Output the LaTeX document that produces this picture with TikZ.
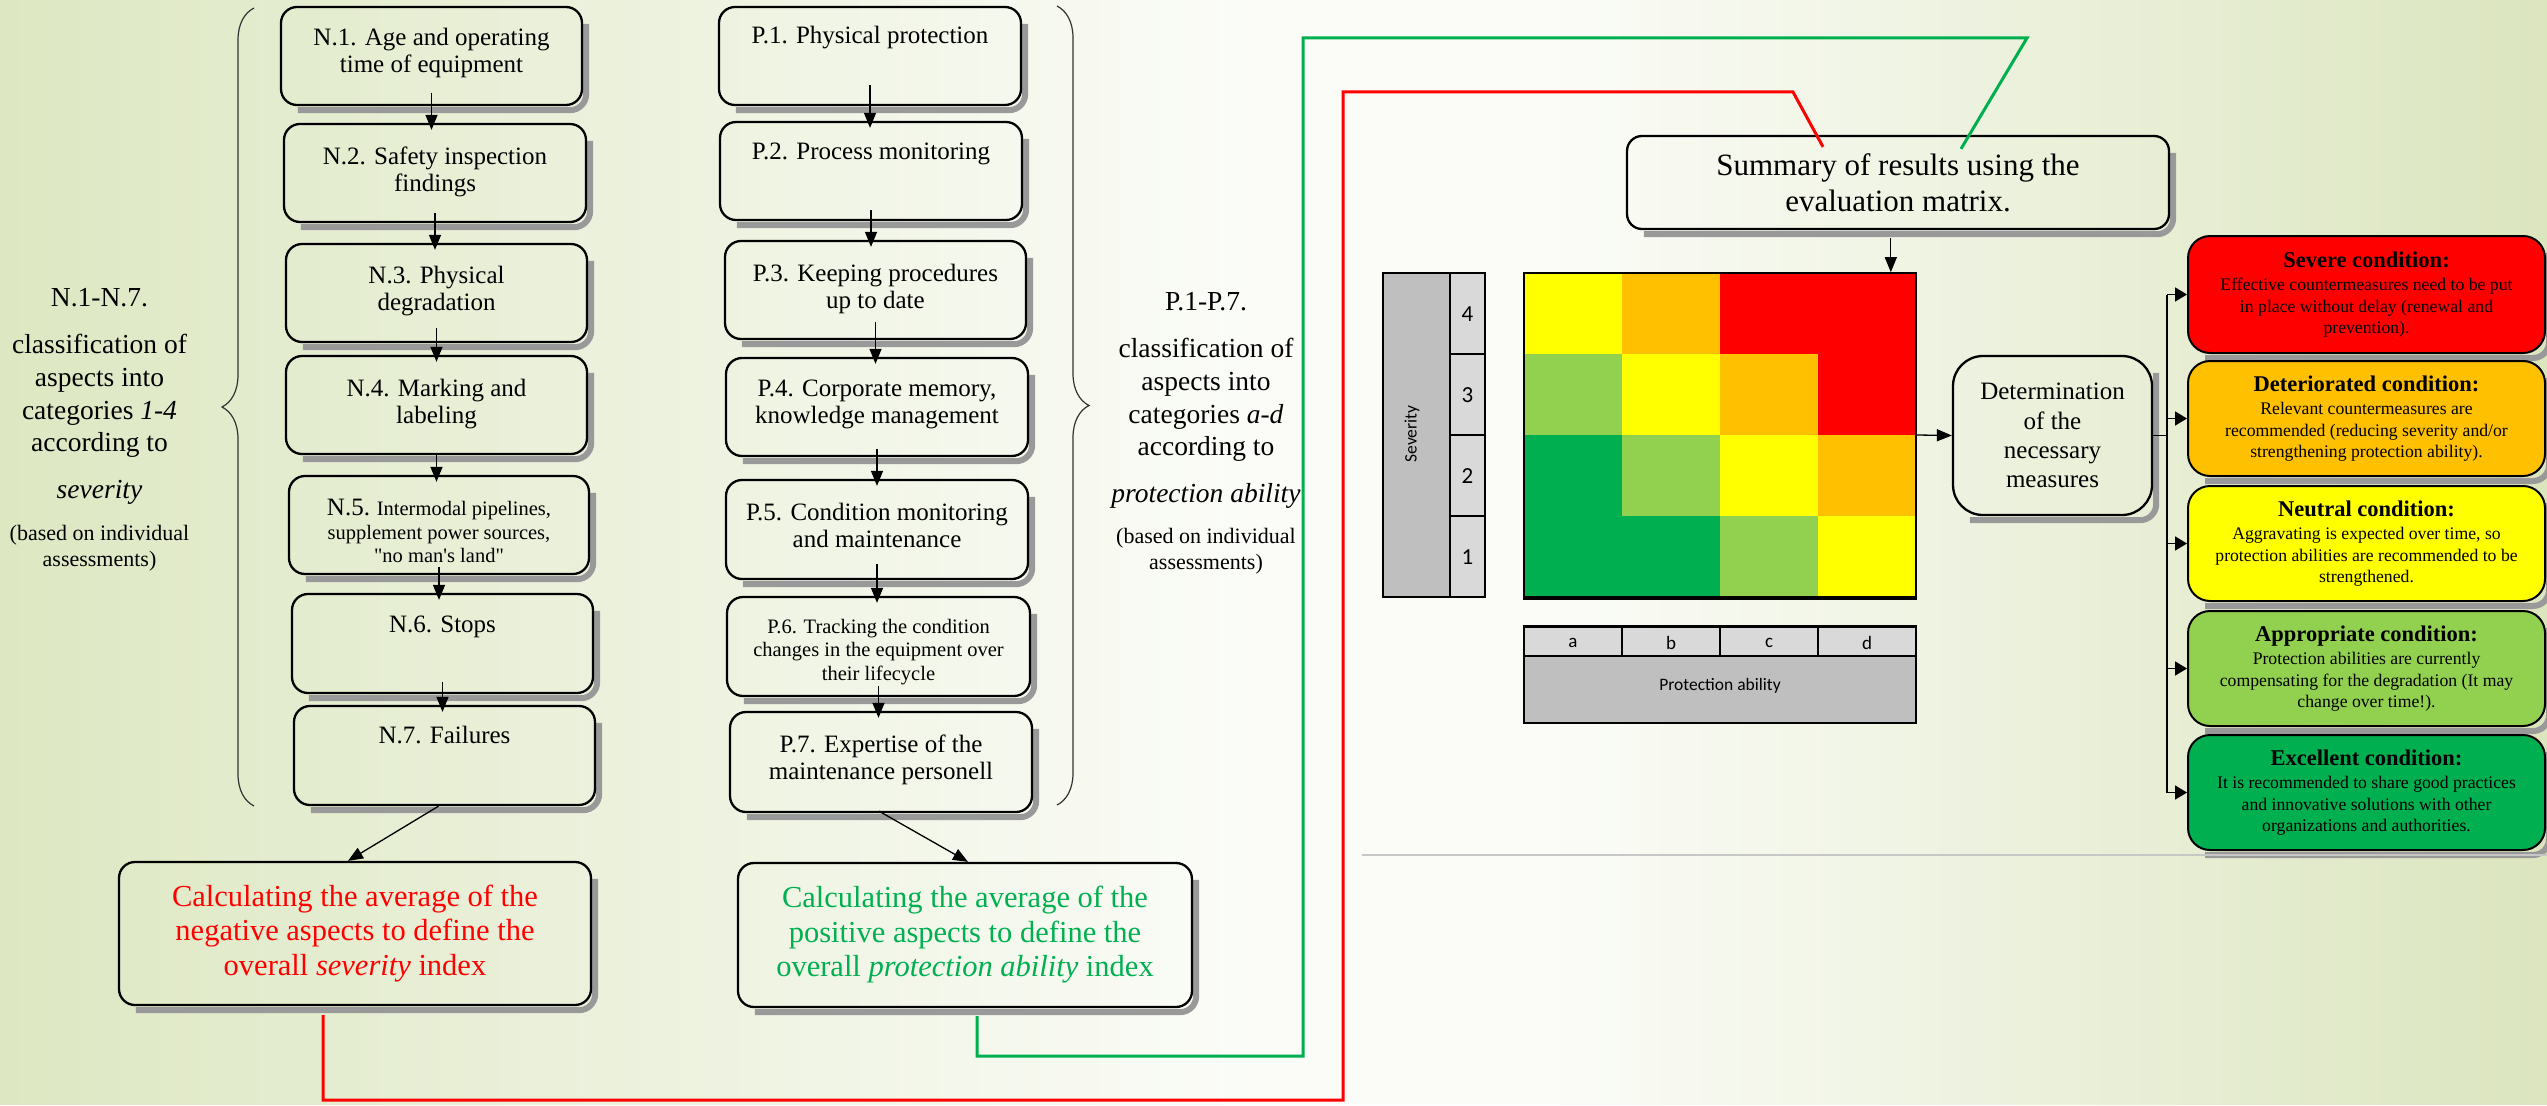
\documentclass[tikz,border=0pt]{standalone}
\usepackage{fontspec}
\setmainfont{Liberation Serif}
\newfontfamily\calfont{Carlito}
\usetikzlibrary{arrows.meta,calc,decorations.pathreplacing}
\pgfdeclarelayer{bglayer}
\pgfdeclarelayer{shlayer}
\pgfsetlayers{bglayer,shlayer,main}
\definecolor{bgL}{RGB}{221,231,194}
\definecolor{bgM}{RGB}{251,252,248}
\definecolor{bgR}{RGB}{219,229,190}
\definecolor{cRed}{RGB}{255,0,0}
\definecolor{cOrange}{RGB}{255,192,0}
\definecolor{cYellow}{RGB}{255,255,0}
\definecolor{cLGreen}{RGB}{146,208,80}
\definecolor{cGreen}{RGB}{0,176,80}
\definecolor{lnRed}{RGB}{255,0,0}
\definecolor{lnGreen}{RGB}{0,176,80}
\definecolor{gDark}{RGB}{191,191,191}
\definecolor{gLight}{RGB}{217,217,217}
\newcommand\mkbox[7]{%
  \node[#6, minimum width={#4-#2}, minimum height={#5-#3}] (#1) at ({(#2+#4)/2},{(#3+#5)/2}) {#7};%
  \begin{pgfonlayer}{shlayer}%
    \draw[shadowln] ([xshift=18pt,yshift=-4pt]#1.south west) -- ([xshift=3pt,yshift=-4pt]#1.south east) -- ([xshift=3pt,yshift=-18pt]#1.north east);%
  \end{pgfonlayer}}
\newcommand\varr[3]{\draw[arr] ($(#1.south)+(0,-#3)$) -- ($(#1.south |- #2.north)+(0,7)$);}
\begin{document}
\begin{tikzpicture}[x=1pt, y=-1pt,
 box/.style={draw=black, line width=2.3pt, rounded corners=16pt, inner sep=0pt, align=center},
 shadowln/.style={draw=black!40, line width=6pt, rounded corners=16pt},
 t25/.style={inner sep=0pt, align=center, font=\fontsize{25}{26.5}\selectfont},
 t20/.style={inner sep=0pt, align=center, font=\fontsize{20.5}{23.5}\selectfont},
 lbl/.style={inner sep=0pt, align=center, font=\fontsize{27.5}{32.7}\selectfont},
 lbls/.style={inner sep=0pt, align=center, font=\fontsize{22}{26}\selectfont},
 avgst/.style={box, font=\fontsize{30.5}{34.5}\selectfont},
 sumst/.style={box, rounded corners=15pt, font=\fontsize{31}{36}\selectfont},
 detst/.style={box, rounded corners=30pt, font=\fontsize{25}{29.3}\selectfont},
 cond/.style={box, line width=2pt, rounded corners=22pt, font=\fontsize{17.7}{21.3}\selectfont},
 arr/.style={draw=black, line width=1.3pt, -{Triangle[length=15pt,width=12pt]}},
 brarr/.style={draw=black, line width=1.5pt, -{Triangle[length=12pt,width=14pt]}},
 ln/.style={draw=black, line width=1.5pt},
 bracest/.style={draw=black!80, line width=1.2pt, decorate, decoration={brace, amplitude=32pt}},
 redln/.style={draw=lnRed, line width=3pt},
 grnln/.style={draw=lnGreen, line width=3pt},
 sepln/.style={draw=black!22, line width=1.5pt},
 mcell/.style={draw=black, line width=1.2pt},
 numst/.style={inner sep=0pt, font=\calfont\fontsize{23}{23}\selectfont},
 letst/.style={inner sep=0pt, font=\calfont\fontsize{19}{19}\selectfont},
 axlbl/.style={inner sep=0pt, font=\calfont\fontsize{17.5}{18}\selectfont},
]
\useasboundingbox (0,0) rectangle (2547,1105);
\begin{pgfonlayer}{bglayer}
 \foreach \i in {0,...,127}{
   \pgfmathsetmacro\xx{\i*20+10}
   \pgfmathsetmacro\pl{max(0,100-\xx/12.5)}
   \pgfmathsetmacro\pr{min(100,max(0,(\xx-1550)/9.97))}
   \colorlet{tmpc}{bgL!\pl!bgM}
   \colorlet{tmpc}{bgR!\pr!tmpc}
   \fill[tmpc] ({\i*20},0) rectangle ({\i*20+20.6},1105);
 }
\end{pgfonlayer}

% braces
\draw[bracest] (254,806) -- (254,8);
\draw[bracest] (1057,6) -- (1057,805);

% side labels
\node[lbl] (lA) at (99.5,298) {N.1-N.7.};
\node[lbl] (lB) at (99.5,396) {classification of\\aspects into\\categories \textit{1-4}\\according to};
\node[lbl] (lC) at (99.5,492) {\textit{severity}};
\node[lbls] (lD) at (99.5,548) {(based on individual\\assessments)};
\node[lbl] (pA) at (1206,302) {P.1-P.7.};
\node[lbl] (pB) at (1206,400) {classification of\\aspects into\\categories \textit{a-d}\\according to};
\node[lbl] (pC) at (1206,496) {\textit{protection ability}};
\node[lbls] (pD) at (1206,551) {(based on individual\\assessments)};

% N column
\mkbox{n1}{281}{7}{582}{105}{box}{}
\mkbox{n2}{284}{124}{586}{222}{box}{}
\mkbox{n3}{286}{244}{587}{342}{box}{}
\mkbox{n4}{286}{356}{587}{454}{box}{}
\mkbox{n5}{289}{476}{589}{574}{box}{}
\mkbox{n6}{292}{594}{593}{693}{box}{}
\mkbox{n7}{294}{706}{595}{805}{box}{}
\node[t25, anchor=north] (n1t) at (431.5,28) {N.1. Age and operating\\time of equipment};
\node[t25, anchor=north] (n2t) at (435,147) {N.2. Safety inspection\\findings};
\node[t25, anchor=north] (n3t) at (436.5,266) {N.3. Physical\\degradation};
\node[t25, anchor=north] (n4t) at (436.5,379) {N.4. Marking and\\labeling};
\node[t20, anchor=north] (n5t) at (439,499) {{\fontsize{25}{26}\selectfont N.5.} Intermodal pipelines,\\supplement power sources,\\\textquotedbl no man\textquotesingle s land\textquotedbl};
\node[t25, anchor=north] (n6t) at (442.5,616) {N.6. Stops};
\node[t25, anchor=north] (n7t) at (444.5,726) {N.7. Failures};

% P column
\mkbox{p1}{719}{7}{1021}{105}{box}{}
\mkbox{p2}{720}{122}{1022}{220}{box}{}
\mkbox{p3}{725}{241}{1026}{339}{box}{}
\mkbox{p4}{726}{358}{1028}{456}{box}{}
\mkbox{p5}{726}{480}{1028}{579}{box}{}
\mkbox{p6}{727}{597}{1030}{696}{box}{}
\mkbox{p7}{730}{712}{1032}{812}{box}{}
\node[t25, anchor=north] (p1t) at (870,26) {P.1. Physical protection};
\node[t25, anchor=north] (p2t) at (871,143) {P.2. Process monitoring};
\node[t25, anchor=north] (p3t) at (875.5,264) {P.3. Keeping procedures\\up to date};
\node[t25, anchor=north] (p4t) at (877,380) {P.4. Corporate memory,\\knowledge management};
\node[t25, anchor=north] (p5t) at (877,503) {P.5. Condition monitoring\\and maintenance};
\node[t20, anchor=north] (p6t) at (878.5,619) {P.6. Tracking the condition\\changes in the equipment over\\their lifecycle};
\node[t25, anchor=north] (p7t) at (881,735) {P.7. Expertise of the\\maintenance personell};

% average boxes
\mkbox{redbox}{119}{862}{591}{1005}{avgst, text=cRed}{Calculating the average of the\\negative aspects to define the\\overall \textit{severity} index}
\mkbox{greenbox}{738}{863}{1192}{1007}{avgst, text=cGreen}{Calculating the average of the\\positive aspects to define the\\overall \textit{protection ability} index}

% column arrows
\varr{n1}{n2}{13}
\varr{n2}{n3}{10}
\varr{n3}{n4}{15}
\varr{n4}{n5}{2}
\varr{n5}{n6}{8}
\varr{n6}{n7}{12}
\varr{p1}{p2}{21}
\varr{p2}{p3}{11}
\varr{p3}{p4}{18}
\varr{p4}{p5}{8}
\varr{p5}{p6}{16}
\varr{p6}{p7}{11}
\draw[arr] ($(n7.south)+(-6,0)$) -- ($(redbox.north)+(-7,0)$);
\draw[arr] ($(p7.south)+(-2,-2)$) -- ($(greenbox.north)+(3,0)$);

% matrix
\foreach \c/\r/\k in {0/0/cYellow,1/0/cOrange,2/0/cRed,3/0/cRed,
                      0/1/cLGreen,1/1/cYellow,2/1/cOrange,3/1/cRed,
                      0/2/cGreen,1/2/cLGreen,2/2/cYellow,3/2/cOrange,
                      0/3/cGreen,1/3/cGreen,2/3/cLGreen,3/3/cYellow}
  \fill[\k] ({1524+\c*98},{273+\r*81}) rectangle ({1524+(\c+1)*98},{273+(\r+1)*81});
\node[draw=black, line width=1.6pt, inner sep=0pt, minimum width=392, minimum height=324] (mat) at (1720,435) {};
\draw[line width=3.5pt] (mat.south west) -- (mat.south east);

% severity bar
\node[mcell, fill=gDark, inner sep=0pt, minimum width=102, minimum height=324] (sevbar) at (1434,435) {};
\foreach \r/\n in {0/4,1/3,2/2,3/1}{
  \draw[mcell, fill=gLight] (1450,{273+\r*81}) rectangle (1485,{273+(\r+1)*81});
  \node[numst] (sn\n) at (1467.5,{314+\r*81}) {\n};
}
\node[axlbl, rotate=90] (sevlbl) at (1412,434) {Severity};

% protection bar
\node[mcell, fill=gDark, inner sep=0pt, minimum width=392, minimum height=96] (probar) at (1720,675) {};
\foreach \c/\l in {0/a,1/b,2/c,3/d}{
  \draw[mcell, fill=gLight] ({1524+\c*98},627) rectangle ({1524+(\c+1)*98},656);
  \node[letst] (pl\l) at ({1573+\c*98},643) {\l};
}
\draw[line width=2.5pt] (probar.north west) -- (probar.north east);
\node[axlbl] (prolbl) at (1720,686) {Protection ability};

% summary and determination
\mkbox{sum}{1627}{136}{2169}{229}{sumst}{Summary of results using the\\evaluation matrix.}
\coordinate (mtop) at ($(mat.north east)+(-26,0)$);
\draw[arr] ($(sum.south -| mtop)+(0,8)$) -- (mtop);
\mkbox{det}{1953}{356}{2152}{515}{detst}{Determination\\of the\\necessary\\measures}
\draw[arr] (mat.east) -- (det.west);

% condition boxes
\mkbox{cSev}{2188}{236}{2545}{353}{cond, fill=cRed}{{\fontsize{22.5}{26}\selectfont\bfseries Severe condition:}\\[2pt]Effective countermeasures need to be put\\in place without delay (renewal and\\prevention).}
\mkbox{cDet}{2188}{361}{2545}{476}{cond, fill=cOrange}{{\fontsize{22.5}{26}\selectfont\bfseries Deteriorated condition:}\\[2pt]Relevant countermeasures are\\recommended (reducing severity and/or\\strengthening protection ability).}
\mkbox{cNeu}{2188}{486}{2545}{601}{cond, fill=cYellow}{{\fontsize{22.5}{26}\selectfont\bfseries Neutral condition:}\\[2pt]Aggravating is expected over time, so\\protection abilities are recommended to be\\strengthened.}
\mkbox{cApp}{2188}{611}{2545}{726}{cond, fill=cLGreen}{{\fontsize{22.5}{26}\selectfont\bfseries Appropriate condition:}\\[2pt]Protection abilities are currently\\compensating for the degradation (It may\\change over time!).}
\mkbox{cExc}{2188}{735}{2545}{850}{cond, fill=cGreen}{{\fontsize{22.5}{26}\selectfont\bfseries Excellent condition:}\\[2pt]It is recommended to share good practices\\and innovative solutions with other\\organizations and authorities.}

\coordinate (tr) at ($(det.east)+(14,0)$);
\draw[ln] (det.east) -- (tr);
\draw[ln] (tr |- cSev.west) -- (tr |- cExc.west);
\foreach \b in {cSev,cDet,cNeu,cApp,cExc}
  \draw[brarr] (tr |- \b.west) -- (\b.west);

% separator
\coordinate (sepA) at (1362,855);
\coordinate (sepB) at (2547,855);
\draw[sepln] (sepA) -- (sepB);

% red and green result lines
\coordinate (rA) at (1343,1100);
\coordinate (rB) at (1793,92);
\coordinate (rE) at ($(sum.north)+(-75,12)$);
\draw[redln] ($(redbox.south)+(-32,9)$) |- (rA) |- (rB) -- (rE);
\coordinate (gA) at (1303,1056);
\coordinate (gB) at (2027,38);
\coordinate (gE) at ($(sum.north)+(63,14)$);
\draw[grnln] ($(greenbox.south)+(12,8)$) |- (gA) |- (gB) -- (gE);
\end{tikzpicture}
\end{document}
